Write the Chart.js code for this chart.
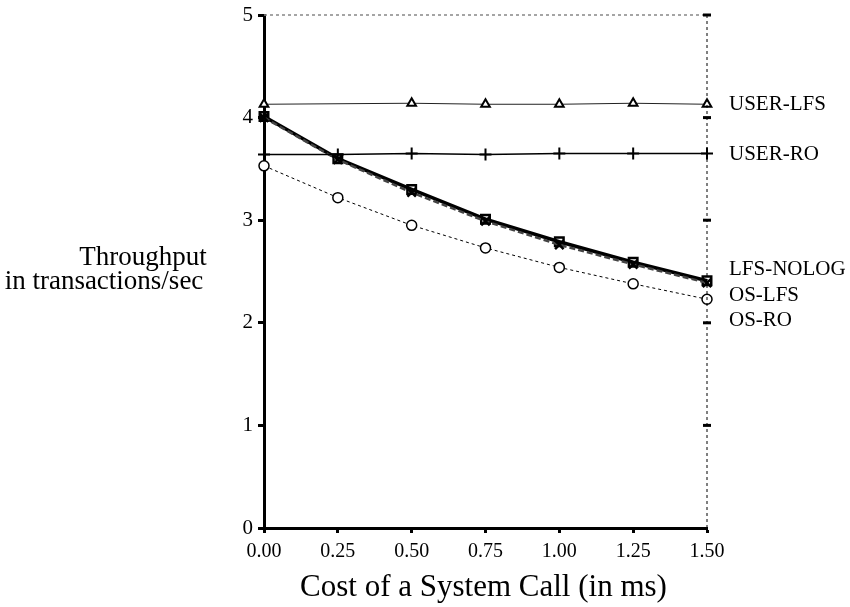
<!DOCTYPE html>
<html>
<head>
<meta charset="utf-8">
<script src="https://cdn.jsdelivr.net/npm/chart.js@4.4.1/dist/chart.umd.min.js"></script>
<style>
  html, body { margin: 0; padding: 0; background: #fff; }
  #wrap { width: 850px; height: 607px; }
</style>
</head>
<body>
<div id="wrap"><canvas id="chart" width="850" height="607"></canvas></div>
<script>
// Data
const callCost = [0, 0.25, 0.5, 0.75, 1.0, 1.25, 1.5];           // ms
const userLfs  = [4.13, null, 4.14, 4.13, 4.13, 4.14, 4.13];
const userRo   = [3.64, 3.64, 3.65, 3.64, 3.65, 3.65, 3.65];
const lfsNolog = [4.01, 3.60, 3.30, 3.01, 2.79, 2.59, 2.41];
const osLfs    = [4.00, 3.59, 3.27, 2.99, 2.76, 2.57, 2.39];
const osRo     = [3.53, 3.22, 2.95, 2.73, 2.54, 2.38, 2.23];

const xTicks = [0, 0.25, 0.5, 0.75, 1.0, 1.25, 1.5];
const yTicks = [0, 1, 2, 3, 4, 5];

const seriesNames = ['USER-LFS', 'USER-RO', 'LFS-NOLOG', 'OS-LFS', 'OS-RO'];
// where the name labels sit on the right (value units)
const labelAt = [4.13, 3.64, 2.52, 2.27, 2.02];

const SERIF = '"Liberation Serif", "DejaVu Serif", serif';

function pts(ys) {
    return callCost.map((x, i) => ({ x: x, y: ys[i] }));
}

const extras = {
    id: 'extras',
    afterDraw(chart) {
        const ctx = chart.ctx;
        const a = chart.chartArea;
        const ys = chart.scales.y;
        ctx.save();

        // dashed top + right frame
        ctx.setLineDash([3, 3]);
        ctx.strokeStyle = '#888';
        ctx.lineWidth = 1.5;
        ctx.beginPath();
        ctx.moveTo(a.left, a.top);
        ctx.lineTo(a.right, a.top);
        ctx.stroke();
        ctx.strokeStyle = '#000';
        ctx.lineWidth = 1;
        ctx.beginPath();
        ctx.moveTo(a.right, a.top);
        ctx.lineTo(a.right, a.bottom);
        ctx.stroke();
        ctx.setLineDash([]);

        // short marks on the right edge
        ctx.lineWidth = 3;
        yTicks.forEach(v => {
            if (v === 0) return;
            const py = ys.getPixelForValue(v);
            ctx.beginPath();
            ctx.moveTo(a.right - 4, py);
            ctx.lineTo(a.right + 4, py);
            ctx.stroke();
        });

        // series names
        ctx.fillStyle = '#000';
        ctx.font = '21px ' + SERIF;
        ctx.textAlign = 'left';
        ctx.textBaseline = 'middle';
        seriesNames.forEach((n, i) => {
            ctx.fillText(n, a.right + 22, ys.getPixelForValue(labelAt[i]));
        });

        // y title (horizontal, two lines)
        ctx.font = '27px ' + SERIF;
        ctx.textAlign = 'center';
        ctx.fillText('Throughput', 143, 258);
        ctx.fillText('in transactions/sec', 104, 282);

        // x title
        ctx.font = '31px ' + SERIF;
        ctx.fillText('Cost of a System Call (in ms)', (a.left + a.right) / 2 - 2, 588);

        ctx.restore();
    }
};

const ctx = document.getElementById('chart').getContext('2d');
new Chart(ctx, {
    type: 'line',
    data: {
        datasets: [
            {
                label: seriesNames[0], data: pts(userLfs), spanGaps: true,
                borderColor: '#222', borderWidth: 1,
                pointStyle: 'triangle', pointRadius: 5, pointBorderWidth: 2,
                pointBorderColor: '#000', pointBackgroundColor: '#fff'
            },
            {
                label: seriesNames[1], data: pts(userRo),
                borderColor: '#000', borderWidth: 1.5,
                pointStyle: 'cross', pointRadius: 6, pointBorderWidth: 2,
                pointBorderColor: '#000'
            },
            {
                label: seriesNames[3], data: pts(osLfs),
                borderColor: '#444', borderWidth: 2.5, borderDash: [6, 3],
                pointStyle: 'crossRot', pointRadius: 6, pointBorderWidth: 2.5,
                pointBorderColor: '#000'
            },
            {
                label: seriesNames[2], data: pts(lfsNolog),
                borderColor: '#000', borderWidth: 3.5,
                pointStyle: 'rect', pointRadius: 6, pointBorderWidth: 2.5,
                pointBorderColor: '#000', pointBackgroundColor: 'rgba(0,0,0,0)'
            },
            {
                label: seriesNames[4], data: pts(osRo),
                borderColor: '#000', borderWidth: 1, borderDash: [3, 3],
                pointStyle: 'circle', pointRadius: 5, pointBorderWidth: 1.5,
                pointBorderColor: '#000', pointBackgroundColor: '#fff'
            }
        ]
    },
    options: {
        responsive: false,
        animation: false,
        layout: { padding: { left: 0, right: 143, top: 15, bottom: 0 } },
        elements: { line: { tension: 0, fill: false } },
        datasets: { line: { clip: false } },
        plugins: { legend: { display: false }, tooltip: { enabled: false } },
        scales: {
            x: {
                type: 'linear', min: 0, max: 1.5,
                afterFit: s => { s.height = 79; s.paddingLeft = 0; s.paddingRight = 0; },
                afterBuildTicks: s => { s.ticks = xTicks.map(v => ({ value: v })); },
                border: { color: '#000', width: 3 },
                grid: { drawOnChartArea: false, tickLength: 5, tickWidth: 3, tickColor: '#000' },
                ticks: {
                    color: '#000', padding: 7, maxRotation: 0,
                    font: { family: SERIF, size: 20 },
                    callback: v => v.toFixed(2)
                }
            },
            y: {
                min: 0, max: 5,
                afterFit: s => { s.width = 264; s.paddingTop = 0; s.paddingBottom = 0; },
                afterBuildTicks: s => { s.ticks = yTicks.map(v => ({ value: v })); },
                border: { color: '#000', width: 3 },
                grid: { drawOnChartArea: false, tickLength: 6, tickWidth: 3, tickColor: '#000' },
                ticks: {
                    color: '#000', padding: 5,
                    font: { family: SERIF, size: 21 }
                }
            }
        }
    },
    plugins: [extras]
});
</script>
</body>
</html>
